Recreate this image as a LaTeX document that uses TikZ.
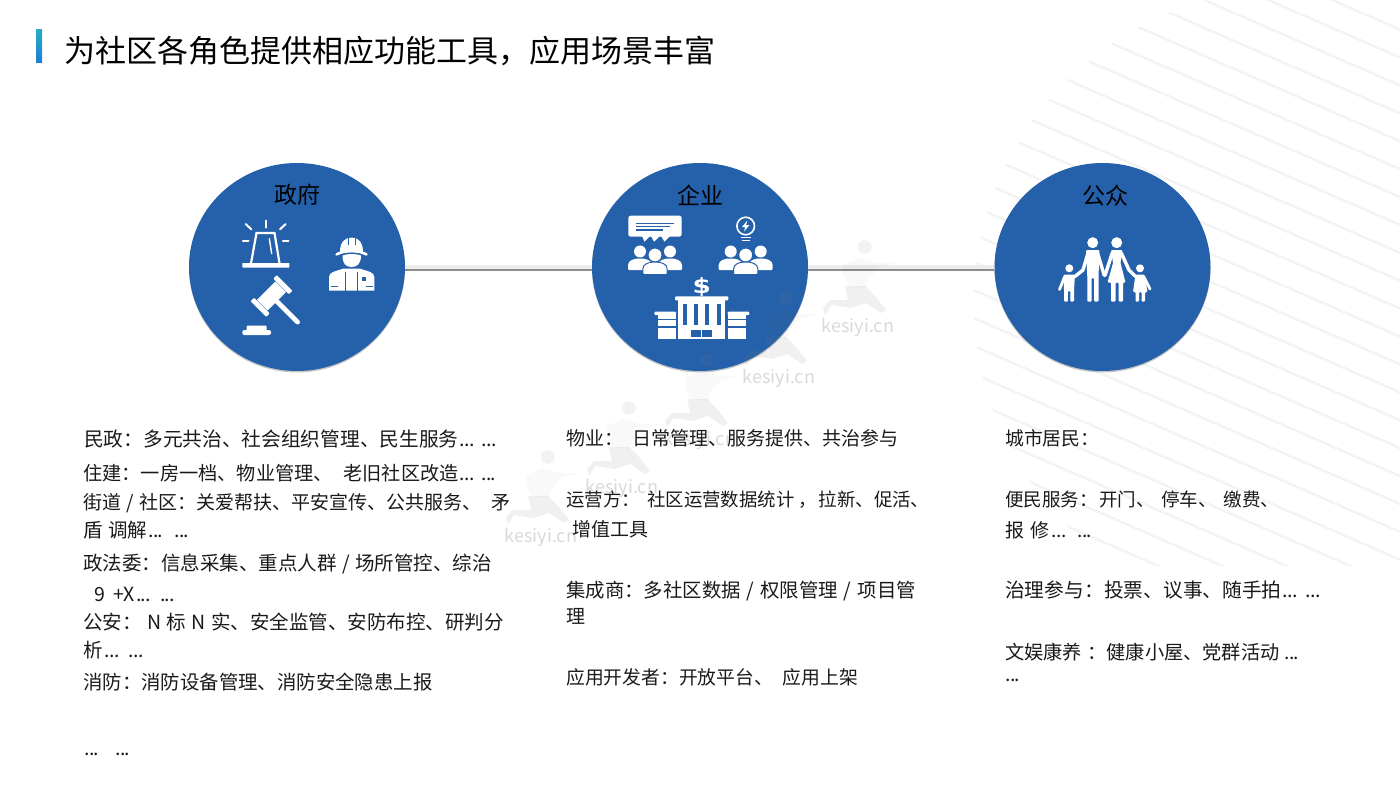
\documentclass[tikz,border=0pt]{standalone}
\usepackage{fontspec}
\setmainfont{Noto Sans CJK SC}
\newfontfamily\iconfont{DejaVu Sans}
\usetikzlibrary{shadows,shapes.geometric}
\definecolor{circblue}{HTML}{2560AA}
\definecolor{barteal}{HTML}{27A9C5}
\definecolor{bodyink}{HTML}{1A1A1A}
\newcommand{\etc}{.\kern-.6pt.\kern-.6pt.}
\newcommand{\gap}[1]{\hspace{#1pt}}
\tikzset{
  bodytext/.style={anchor=base west,inner sep=0pt,text=bodyink,font=\fontsize{#1}{22}\selectfont},
  bodytext/.default=19.5,
  headtext/.style={inner sep=0pt,text=black,font=\fontsize{23}{26}\selectfont},
  rolecircle/.style={ellipse,fill=circblue,minimum width=216pt,minimum height=208pt,inner sep=0pt,
    drop shadow={shadow xshift=0pt,shadow yshift=-1.5pt,opacity=.45}},
  hatchline/.style={draw=black!12,line width=.45pt,double=white,double distance=.8pt},
  linkline/.style={draw=black!45,line width=1.6pt},
  linkglow/.style={draw=black!7,line width=5pt},
  limb/.style={draw=white,line width=3.4pt,line cap=round,line join=round},
  people/.pic={
    \fill[white] (-15,-3.5) circle [radius=6];
    \fill[white] (15,-3.5) circle [radius=6];
    \fill[white,rounded corners=1pt] (-27,15) -- (-27,11) .. controls (-27,5) and (-20,3.5) .. (-15,3.5) .. controls (-10,3.5) and (-3,5) .. (-3,11) -- (-3,15) -- cycle;
    \fill[white,rounded corners=1pt] (3,15) -- (3,11) .. controls (3,5) and (10,3.5) .. (15,3.5) .. controls (20,3.5) and (27,5) .. (27,11) -- (27,15) -- cycle;
    \filldraw[fill=white,draw=circblue,line width=1pt] (0,0) circle [radius=7];
    \filldraw[fill=white,draw=circblue,line width=1pt,rounded corners=1pt] (-12.2,19.5) -- (-12.2,15) .. controls (-12.2,9) and (-6,7) .. (0,7) .. controls (6,7) and (12.2,9) .. (12.2,15) -- (12.2,19.5) -- cycle;
  },
  runner/.pic={
    \fill[gray,opacity=.1] (6.7,-80) circle [radius=7];
    \fill[gray,opacity=.05] (-15,-62) -- (2,-69) -- (18,-64) -- (38,-64) -- (20,-59) -- (10,-47) -- (8,-39) -- (-10,-41) -- (-15,-54) -- cycle;
    \fill[gray,opacity=.12] (-13,-41) -- (7,-41) -- (17,-31) -- (28,-17) -- (23,-14) -- (8,-24) -- (-7,-19) -- (-27,-22) -- (-33,-12) -- (-35,-19) -- (-28,-27) -- (-10,-27) -- cycle;
    \node[text=gray,text opacity=.3,inner sep=0pt,font=\fontsize{18}{20}\selectfont] (-mark) at (0,0) {kesiyi.cn};
  }
}
\begin{document}
\begin{tikzpicture}[x=1pt,y=-1pt]
  \useasboundingbox (0,0) rectangle (1400,789);

  % striped background, top right
  \begin{scope}
    \clip (1287,303) circle [radius=313];
    \clip (900,-20) rectangle (1420,565);
    \foreach \i in {-2,...,21}
      \draw[hatchline] (950,{-525+27.9*\i+0.436*950}) -- (1420,{-525+27.9*\i+0.436*1420});
  \end{scope}

  % title
  \fill[top color=barteal,bottom color=barteal!75!blue] (36,30) rectangle (42,63);
  \node[anchor=west,inner sep=0pt,text=black,font=\fontsize{31}{36}\selectfont] (title) at (64.3,51) {为社区各角色提供相应功能工具，应用场景丰富};

  % three circles and their link
  \node[rolecircle] (gov) at (297,267) {};
  \node[rolecircle] (ent) at (700,267) {};
  \node[rolecircle] (pub) at (1102.5,267) {};
  \draw[linkglow] (gov) -- (ent);
  \draw[linkglow] (ent) -- (pub);
  \draw[linkline,transform canvas={yshift=-3pt}] (gov) -- (ent);
  \draw[linkline,transform canvas={yshift=-3pt}] (ent) -- (pub);

  \node[headtext] (govhead) at (297,195) {政府};
  \node[headtext] (enthead) at (700,195) {企业};
  \node[headtext] (pubhead) at (1105,196) {公众};

  % alarm lamp
  \fill[white,rounded corners=.5pt] (242.3,263) rectangle (289.3,267.5);
  \draw[white,line width=2.2pt] (251,263.3) -- (256.5,233) -- (274.5,233) -- (279.5,263.3);
  \draw[white,line width=1.4pt] (269.3,238.3) -- (271.7,254);
  \draw[limb,line width=2pt] (265.7,220.7) -- (265.7,227.7);
  \draw[limb,line width=2pt] (245.7,224) -- (251.3,229.3);
  \draw[limb,line width=2pt] (285.7,224) -- (280,229.3);
  \draw[limb,line width=2pt] (242.8,240.7) -- (248.5,240.7);
  \draw[limb,line width=2pt] (282.8,240.7) -- (288.5,240.7);

  % gavel
  \begin{scope}[shift={(271.5,296)},rotate=45]
    \draw[limb,line width=4.6pt] (0,0) -- (0,37);
    \fill[white] (-13,-7.5) rectangle (13,7.5);
    \fill[white,rounded corners=.8pt] (-18.5,-11) rectangle (-13.5,11);
    \fill[white,rounded corners=.8pt] (13.5,-11) rectangle (18.5,11);
  \end{scope}
  \fill[white,rounded corners=.8pt] (246.7,325.7) rectangle (266.7,331);
  \fill[white,rounded corners=2pt] (242.3,330) rectangle (271,335);

  % firefighter
  \fill[white] (340,252) .. controls (340,242) and (345,237.5) .. (351.7,237.5) .. controls (358,237.5) and (363,242) .. (363,252) -- cycle;
  \draw[circblue,line width=.8pt] (348,238) -- (348,245) (355.5,238) -- (355.5,245);
  \draw[limb,line width=2.6pt] (336.5,254.5) .. controls (344,250) and (359,250) .. (366.5,254.5);
  \fill[white] (342.5,255.5) .. controls (347,253.5) and (356,253.5) .. (361,255.5) .. controls (361,264) and (357,267) .. (351.7,267) .. controls (346,267) and (342.5,264) .. (342.5,255.5) -- cycle;
  \fill[white] (329,290.7) -- (329,277) .. controls (329,272) and (335,271.5) .. (343.7,268.5) -- (359.7,268.5) .. controls (368,271.5) and (374.3,272) .. (374.3,277) -- (374.3,290.7) -- cycle;
  \draw[circblue,line width=.8pt] (345.7,271.5) -- (345.7,290.7);
  \draw[circblue,line width=.8pt] (357.7,271.5) -- (357.7,290.7);
  \draw[circblue,line width=1pt] (331,286) -- (337.5,286);
  \draw[circblue,line width=1pt] (366,286) -- (372.5,286);
  \fill[circblue] (361.5,277) rectangle (365.5,281);

  % speech bubble with group
  \fill[white,rounded corners=2.5pt] (628.3,215.7) rectangle (681.7,236.7);
  \fill[white] (642,236) -- (650,236) -- (644.5,241.7) -- cycle;
  \fill[white] (651,236) -- (660,236) -- (654,241.7) -- cycle;
  \fill[white] (661,236) -- (670,236) -- (664.5,241.7) -- cycle;
  \draw[circblue,line width=1.1pt] (636,223.3) -- (674.3,223.3);
  \draw[circblue,line width=1.1pt] (636,226.7) -- (670,226.7);
  \draw[circblue,line width=1.1pt] (636,230) -- (663,230);
  \pic at (655,255) {people};

  % bulb with group
  \draw[white,line width=1.6pt] (745.7,226) circle [radius=8.8];
  \fill[white] (747.3,220.5) -- (742,227) -- (745.2,227) -- (744,231.5) -- (749.5,225) -- (746.2,225) -- cycle;
  \draw[white,line width=1.2pt] (741,237.5) -- (750.5,237.5);
  \draw[white,line width=1.2pt] (742,240.5) -- (749.5,240.5);
  \pic at (745.7,255) {people};

  % bank
  \node[inner sep=0pt,text=white,xscale=1.25,font=\iconfont\bfseries\fontsize{21}{24}\selectfont] (dollar) at (701.7,287.5) {\$};
  \fill[white,rounded corners=1pt] (675,296.3) rectangle (728.3,300.3);
  \fill[white] (678.3,300) rectangle (725,339);
  \foreach \x in {683.3,694,705.3,716.7}
    \fill[circblue] (\x,304) rectangle (\x+4,325);
  \fill[circblue] (691,330) rectangle (712.3,336.7);
  \fill[white] (701,330) rectangle (702.3,336.7);
  \fill[white] (657.7,314.3) rectangle (676,339);
  \fill[white,rounded corners=1pt] (654.3,311.7) rectangle (676,315);
  \fill[white] (727.7,314.3) rectangle (746,339);
  \fill[white,rounded corners=1pt] (727.7,311.7) rectangle (749.3,315);
  \foreach \y in {319.5,327}
    \draw[circblue,line width=1.1pt] (657,\y) -- (676.5,\y) (727,\y) -- (746.5,\y);

  % family
  \fill[white] (1092.7,242.7) circle [radius=5.5];
  \fill[white] (1116.7,242.7) circle [radius=5.5];
  \fill[white] (1069.3,268.3) circle [radius=4];
  \fill[white] (1140,268.3) circle [radius=4];
  \fill[white,rounded corners=1pt] (1086,250) -- (1099.5,250) -- (1098.5,277) -- (1098.5,301.7) -- (1094.2,301.7) -- (1094.2,278) -- (1091.7,278) -- (1091.7,301.7) -- (1087.3,301.7) -- (1087.3,277) -- cycle;
  \draw[limb] (1088,253) -- (1083,270) -- (1075,276.5);
  \draw[limb] (1097.5,253) -- (1104.3,275.5);
  \fill[white,rounded corners=1pt] (1111,250) -- (1122.5,250) -- (1120.5,263) -- (1125.5,282.5) -- (1123,282.5) -- (1123,301.7) -- (1118.7,301.7) -- (1118.7,282.5) -- (1115.5,282.5) -- (1115.5,301.7) -- (1111,301.7) -- (1111,282.5) -- (1107.5,282.5) -- (1113,263) -- cycle;
  \draw[limb] (1112.2,253) -- (1105,275.5);
  \draw[limb] (1121.3,253) -- (1129,270) -- (1135.5,276.5);
  \fill[white,rounded corners=1pt] (1063.5,274.5) -- (1075,274.5) -- (1074,290) -- (1074,301.7) -- (1070.3,301.7) -- (1070.3,291) -- (1067.8,291) -- (1067.8,301.7) -- (1064,301.7) -- (1064,290) -- cycle;
  \draw[limb,line width=2.8pt] (1064.5,277) -- (1059.5,289.5);
  \fill[white,rounded corners=1pt] (1135.5,274.5) -- (1144.5,274.5) -- (1147.5,292) -- (1145,292) -- (1145,301.7) -- (1141.5,301.7) -- (1141.5,292) -- (1139,292) -- (1139,301.7) -- (1135.5,301.7) -- (1135.5,292) -- (1133,292) -- cycle;
  \draw[limb,line width=2.8pt] (1144,277) -- (1150,289);

  % site mark
  \foreach \mx/\my [count=\n] in {858/327,779/378,700/440,622/488,541/537}
    \pic (site\n) at (\mx,\my) {runner};

  % left column
  \node[bodytext=19.7] (govA) at (84,446) {民政：多元共治、社会组织管理、民生服务\gap{1}\etc\gap{7}\etc};
  \node[bodytext=19.2] (govB) at (83,480) {住建：一房一档、物业管理、\gap{10.7}老旧社区改造\gap{1}\etc\gap{7}\etc};
  \node[bodytext=19] (govC) at (83,509) {街道\gap{5.5}/\gap{5.5}社区：关爱帮扶、平安宣传、公共服务、\gap{10}矛};
  \node[bodytext] (govD) at (83,537) {盾\gap{5.5}调解\gap{1}\etc\gap{11}\etc};
  \node[bodytext] (govE) at (83,570) {政法委：信息采集、重点人群\gap{5.5}/\gap{5.5}场所管控、综治};
  \node[bodytext] (govF) at (94,601) {9\gap{8}+X\gap{1}\etc\gap{9}\etc};
  \node[bodytext] (govG) at (83,629) {公安：\gap{6}N\gap{4.7}标\gap{5.5}N\gap{5.5}实、安全监管、安防布控、研判分};
  \node[bodytext] (govH) at (83,657) {析\gap{2}\etc\gap{9}\etc};
  \node[bodytext=19.4] (govI) at (83,689) {消防：消防设备管理、消防安全隐患上报};
  \node[bodytext] (govJ) at (84,755) {\etc\gap{16}\etc};

  % middle column
  \node[bodytext=19] (entA) at (566,445) {物业：\gap{9}日常管理、服务提供、共治参与};
  \node[bodytext=18.4] (entB) at (566,506) {运营方：\gap{7.4}社区运营数据统计\gap{4}，\gap{2}拉新、促活、};
  \node[bodytext=19] (entC) at (572,536) {增值工具};
  \node[bodytext=19.4] (entD) at (566,597) {集成商：多社区数据\gap{6}/\gap{6}权限管理\gap{6}/\gap{6}项目管};
  \node[bodytext=19] (entE) at (566,623) {理};
  \node[bodytext=18.8] (entF) at (566,684) {应用开发者：开放平台、\gap{10}应用上架};

  % right column
  \node[bodytext=18.8] (pubA) at (1005,445) {城市居民：};
  \node[bodytext=18.5] (pubB) at (1005,506) {便民服务：\gap{1.5}开门、\gap{6.5}停车、\gap{7}缴费、};
  \node[bodytext=19] (pubC) at (1005,537) {报\gap{6.7}修\gap{2}\etc\gap{11}\etc};
  \node[bodytext=19.7] (pubD) at (1005,597) {治理参与：\gap{.5}投票、议事、随手拍\gap{1}\etc\gap{8}\etc};
  \node[bodytext=19.2] (pubE) at (1005,659) {文娱康养\gap{5.5}：健康小屋、党群活动\gap{5}\etc};
  \node[bodytext] (pubF) at (1005,681) {\etc};
\end{tikzpicture}
\end{document}
